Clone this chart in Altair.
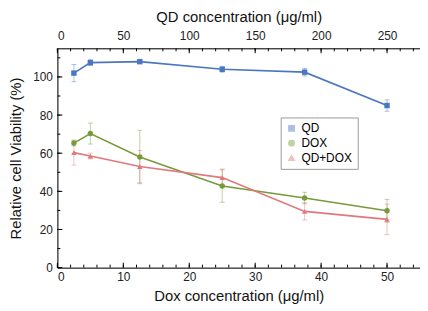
import altair as alt
import pandas as pd

dox_conc = [2.5, 5, 12.5, 25, 37.5, 50]
qd_conc = [12.5, 25, 62.5, 125, 187.5, 250]
series_names = ["QD", "DOX", "QD+DOX"]
qd_viab = [102.0, 107.5, 108.0, 104.0, 102.5, 85.0]
qd_err = [4.5, 1.5, 1.0, 1.5, 2.0, 3.0]
dox_viab = [65.3, 70.3, 58.0, 42.8, 36.5, 29.8]
dox_err = [1.5, 5.5, 14.0, 8.5, 3.0, 6.0]
combo_viab = [60.3, 58.5, 53.0, 47.2, 29.5, 25.3]
combo_err = [6.5, 1.5, 8.5, 4.5, 4.5, 8.0]
colors = ["#4a77c0", "#779a3a", "#e0787c"]
shapes = ["square", "circle", "triangle-up"]

x_ticks_minor = list(range(0, 56, 2))
x_ticks_major = [0, 10, 20, 30, 40, 50]
qd_ticks_minor = list(range(0, 276, 10))
qd_ticks_major = [0, 50, 100, 150, 200, 250]
y_ticks_minor = list(range(0, 116, 10))
y_ticks_major = [0, 20, 40, 60, 80, 100]

rows = []
for name, vals, errs in [("QD", qd_viab, qd_err), ("DOX", dox_viab, dox_err), ("QD+DOX", combo_viab, combo_err)]:
    for d, v, e in zip(dox_conc, vals, errs):
        rows.append({"dox": d, "viab": v, "lo": v - e, "hi": v + e, "series": name})
df = pd.DataFrame(rows)

W, H = 367, 222
FONT = "Liberation Sans"

xs = alt.Scale(domain=[0, 55], nice=False, zero=False)
ys = alt.Scale(domain=[0, 115], nice=False)
qs = alt.Scale(domain=[0, 275], nice=False, zero=False)

common_axis = dict(ticks=False, labelFontSize=12, titleFontSize=15,
                   titleFontWeight="normal", labelFont=FONT, titleFont=FONT,
                   domainColor="black", labelColor="#222", titleColor="#111", grid=False)
xaxis = alt.Axis(title="Dox concentration (μg/ml)", values=x_ticks_major, labelPadding=4,
                 titlePadding=6, **common_axis)
yaxis = alt.Axis(title="Relative cell Viability (%)", values=y_ticks_major, labelPadding=5,
                 titlePadding=9, **common_axis)
qaxis = alt.Axis(orient="top", title="QD concentration (μg/ml)", values=qd_ticks_major,
                 labelPadding=6, titlePadding=5, **common_axis)

legend = alt.Legend(title=None, orient="none", legendX=226, legendY=70,
                    strokeColor="#999999", padding=5, labelFontSize=12,
                    labelFont=FONT, symbolSize=30, rowPadding=3, fillColor="white")
color = alt.Color("series:N", scale=alt.Scale(domain=series_names, range=colors), legend=legend)
shape = alt.Shape("series:N", scale=alt.Scale(domain=series_names, range=shapes), legend=legend)

X = alt.X("dox:Q", scale=xs, axis=xaxis, title="Dox concentration (μg/ml)")
YT = "Relative cell Viability (%)"
base = alt.Chart(df)

lines = base.mark_line(strokeWidth=1.6).encode(
    x=X, y=alt.Y("viab:Q", scale=ys, axis=yaxis, title=YT),
    color=color, detail="series:N",
)
err_lines = base.mark_rule(strokeWidth=1, opacity=0.45).encode(
    x=X, y=alt.Y("lo:Q", scale=ys, axis=yaxis, title=YT), y2="hi:Q",
    color=color,
)
err_caps_lo = base.mark_tick(thickness=1, size=5, orient="horizontal", opacity=0.45).encode(
    x=X, y=alt.Y("lo:Q", scale=ys, axis=yaxis, title=YT), color=color,
)
err_caps_hi = base.mark_tick(thickness=1, size=5, orient="horizontal", opacity=0.45).encode(
    x=X, y=alt.Y("hi:Q", scale=ys, axis=yaxis, title=YT), color=color,
)
points = base.mark_point(filled=True, size=30, opacity=1).encode(
    x=X, y=alt.Y("viab:Q", scale=ys, axis=yaxis, title=YT),
    color=color, shape=shape,
)

def xtick_layer(vals, length):
    d = pd.DataFrame({"t": vals})
    return alt.Chart(d).mark_rule(color="black", strokeWidth=1).encode(
        x=alt.X("t:Q", scale=xs, axis=xaxis, title="Dox concentration (μg/ml)"),
        y=alt.value(H), y2=alt.value(H - length))

def qtick_layer(vals, length):
    d = pd.DataFrame({"t": vals})
    return alt.Chart(d).mark_rule(color="black", strokeWidth=1).encode(
        x=alt.X("t:Q", scale=qs, axis=qaxis, title="QD concentration (μg/ml)"),
        y=alt.value(0), y2=alt.value(length))

def ytick_layer(vals, length):
    d = pd.DataFrame({"t": vals})
    return alt.Chart(d).mark_rule(color="black", strokeWidth=1).encode(
        y=alt.Y("t:Q", scale=ys, axis=yaxis, title=YT),
        x=alt.value(0), x2=alt.value(length))

main = alt.layer(
    err_lines, err_caps_lo, err_caps_hi, lines, points,
    xtick_layer(x_ticks_minor, 3), xtick_layer(x_ticks_major, 5),
    ytick_layer(y_ticks_minor, 3), ytick_layer(y_ticks_major, 5),
)

top = alt.layer(qtick_layer(qd_ticks_minor, 3), qtick_layer(qd_ticks_major, 5))

chart = alt.layer(main, top).resolve_scale(x="independent").properties(
    width=W, height=H, padding=0
).configure_view(stroke="black", strokeWidth=1).configure(background="white")

chart.save("out.html", embed_options={"renderer": "svg", "actions": False})
